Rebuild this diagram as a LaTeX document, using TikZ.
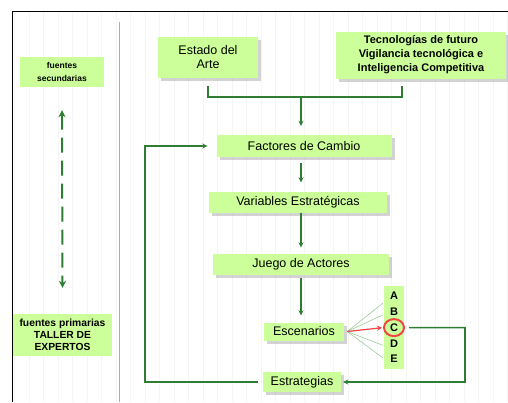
\documentclass[tikz,border=0pt]{standalone}
\usepackage{fontspec}
\setmainfont{Liberation Sans}
\usepackage{tikz}
\usetikzlibrary{positioning, shapes.geometric, arrows.meta, calc, shadows}

\definecolor{boxgreen}{HTML}{CCFF99}
\definecolor{linegreen}{HTML}{2E7D32}
\definecolor{fangreen}{HTML}{9CC99C}
\definecolor{ringred}{HTML}{F04545}
\definecolor{sepgray}{HTML}{9DB59D}

\begin{document}
\begin{tikzpicture}[
                x=1pt, y=-1pt,
                stage/.style={
                    fill=boxgreen,
                    inner sep=0pt,
                    align=center,
                    font=\fontsize{12.5}{14.5}\selectfont,
                    drop shadow={shadow xshift=3pt, shadow yshift=-3pt, fill=gray, opacity=.35}
                },
                source/.style={
                    fill=boxgreen,
                    inner sep=0pt,
                    align=center
                },
                letter/.style={
                    inner sep=0pt,
                    font=\bfseries\fontsize{11}{12}\selectfont
                },
                flow/.style={
                    draw=linegreen,
                    line width=1.6pt,
                    -{Stealth[length=5pt, width=5pt]}
                },
                bracket/.style={
                    draw=linegreen,
                    line width=1.6pt
                },
                dasharrow/.style={
                    draw=linegreen,
                    line width=2pt,
                    dash pattern=on 15pt off 8pt,
                    {Stealth[length=7pt, width=7pt]}-{Stealth[length=7pt, width=7pt]}
                },
                fan/.style={
                    draw=fangreen,
                    line width=0.6pt
                },
                pick/.style={
                    draw=ringred,
                    line width=1.2pt,
                    -{Stealth[length=5pt, width=5pt]}
                },
                ring/.style={
                    draw=ringred,
                    line width=2pt,
                    ellipse, minimum width=20pt, minimum height=17pt,
                    inner sep=0pt
                }
            ]

            \useasboundingbox (0,0) rectangle (508,402);

            % --- Hintergrund: Raster, Rahmen, Trennlinie ---
            \draw[black!4, line width=0.3pt, step=14.5] (13,12) grid (508,402);
            \draw[line width=0.9pt] (12,402) -- (12,11) -- (508,11);
            \draw[sepgray, line width=0.8pt] (119.5,22) -- (119.5,402);

            % --- Linke Spalte ---
            \node[source, minimum width=84pt, minimum height=30pt,
                  font=\bfseries\fontsize{8.5}{13.5}\selectfont] (sec) at (62,72) {fuentes\\secundarias};
            \node[source, minimum width=99pt, minimum height=42pt,
                  font=\bfseries\fontsize{10.3}{12}\selectfont] (prim) at (62.5,335) {fuentes primarias\\TALLER DE\\EXPERTOS};
            \draw[dasharrow] ([yshift=-23pt]sec.south) -- ([yshift=26pt]prim.north);

            % --- Obere Reihe ---
            \node[stage, minimum width=100pt, minimum height=41pt] (arte) at (208,57) {Estado del\\Arte};
            \node[stage, minimum width=170pt, minimum height=47pt,
                  font=\bfseries\fontsize{11}{14}\selectfont] (tec) at (421,55) {Tecnologías de futuro\\Vigilancia tecnológica e\\Inteligencia Competitiva};

            % --- Ablauf ---
            \node[stage, minimum width=175pt, minimum height=22pt] (fac) at (304,146) {Factores de Cambio};
            \node[stage, minimum width=178pt, minimum height=21pt] (var) at (298,202) {Variables Estratégicas};
            \node[stage, minimum width=176pt, minimum height=21pt] (jue) at (301,264) {Juego de Actores};
            \node[stage, minimum width=80pt, minimum height=18pt] (esc) at (304,331.5) {Escenarios};
            \node[stage, minimum width=78pt, minimum height=20pt] (est) at (302,382) {Estrategias};

            % --- Szenarien A bis E ---
            \node[source, minimum width=20pt, minimum height=83pt] (abc) at (394,327.5) {};
            \foreach \l [count=\i] in {A,B,C,D,E} {
                \node[letter] (l\l) at (394,280.5+15.7*\i) {\l};
            }
            \node[ring] (ring) at (lC) {};

            \coordinate (join) at (301,97);
            \coordinate (axis) at (301,0);
            \coordinate (loopL) at (145,382);
            \coordinate (ret) at (465,327.6);

            % --- Verbindungen ---
            \draw[bracket] ([yshift=-8pt]arte.south) |- (join) -| ([xshift=-19pt, yshift=-7pt]tec.south);
            \draw[flow, shorten >=9pt] (join) -- (axis |- fac.north);
            \draw[flow, shorten <=6pt, shorten >=9pt] (axis |- fac.south) -- (axis |- var.north);
            \draw[flow, shorten >=6pt] (axis |- var.south) -- (axis |- jue.north);
            \draw[flow, shorten <=3pt, shorten >=7pt] (axis |- jue.south) -- (axis |- esc.north);

            \foreach \l/\dy in {A/7, B/3, D/2, E/-1} {
                \draw[fan] ([xshift=3pt]esc.east) -- ($(l\l.west)+(-7,\dy)$);
            }
            \draw[pick, shorten >=1pt] ([xshift=3pt]esc.east) -- (ring.west);

            \draw[flow, shorten >=2pt] ([xshift=4pt]ring.east) -- (ret) |- (est.east);
            \draw[flow, shorten >=9pt] ([xshift=-5pt]est.west) -- (loopL) |- (fac.west);

        \end{tikzpicture}
\end{document}
